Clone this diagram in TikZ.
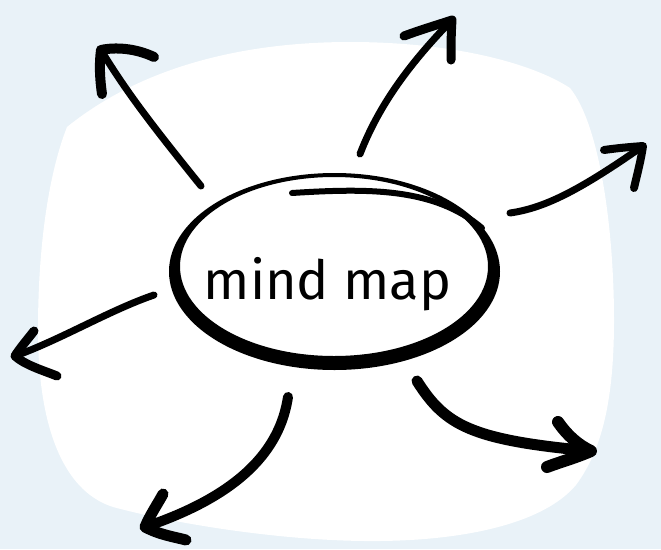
\documentclass[tikz,border=0pt]{standalone}
\usepackage{fontspec}
\newfontfamily\mmfont{Fira Sans}
\definecolor{bgblue}{RGB}{233,242,248}
\tikzset{
  stroke/.style={draw=black, line cap=round, line join=round, line width=#1},
  stroke/.default=7pt
}
\begin{document}
\begin{tikzpicture}[x=1pt,y=-1pt]
\useasboundingbox (0,0) rectangle (661,549);
\fill[bgblue] (0,0) rectangle (661,549);
% white blob
\fill[white] (67,127) .. controls (140,68) and (240,42) .. (350,42)
  .. controls (450,42) and (530,62) .. (570,88)
  .. controls (600,125) and (614,230) .. (614,320)
  .. controls (614,400) and (602,450) .. (576,485)
  .. controls (545,522) and (470,540) .. (380,541)
  .. controls (290,542) and (180,525) .. (113,507)
  .. controls (60,490) and (38,420) .. (38,330)
  .. controls (38,240) and (50,170) .. (67,127) -- cycle;
% central ellipse (variable thickness ring)
\fill[black, even odd rule] (334.5,271.5) ellipse [x radius=165.5, y radius=98.5]
  (334,266.5) ellipse [x radius=154, y radius=89.5];
\draw[stroke=6pt] (292,193) .. controls (370,188) and (435,188) .. (482,228);
\node[inner sep=0pt, anchor=base, font=\mmfont\fontsize{54}{60}\selectfont] (center) at (327.5,299) {mind map};
% arrow 1 top-left
\coordinate (a1s) at (201,186);
\coordinate (a1t) at (101,50);
\draw[stroke=7pt] (a1s) .. controls (160,135) and (128,95) .. (a1t);
\draw[stroke=10pt] (154,57) .. controls (135,48) and (115,47) .. (a1t) .. controls (99,65) and (100,80) .. (102,94);
% arrow 2 top
\coordinate (a2s) at (360,154);
\coordinate (a2t) at (452,20);
\draw[stroke=7pt] (a2s) .. controls (377,110) and (405,68) .. (a2t);
\draw[stroke=9pt] (404,36) .. controls (420,30) and (440,24) .. (a2t) .. controls (451,35) and (451,48) .. (451,60);
% arrow 3 right
\coordinate (a3s) at (510,213);
\coordinate (a3t) at (643,146);
\draw[stroke=7pt] (a3s) .. controls (545,208) and (580,190) .. (a3t);
\draw[stroke=8pt] (604,150) .. controls (618,148) and (630,147) .. (a3t) .. controls (641,160) and (637,175) .. (634,188);
% arrow 4 left
\coordinate (a4s) at (154,295);
\coordinate (a4t) at (15,356);
\draw[stroke=7pt] (a4s) .. controls (110,310) and (60,340) .. (a4t);
\draw[stroke=9pt] (34,331) .. controls (27,340) and (20,348) .. (a4t) .. controls (25,365) and (42,370) .. (57,376);
% arrow 5 bottom-left
\coordinate (a5s) at (288,397);
\coordinate (a5t) at (145,527);
\draw[stroke=10pt] (a5s) .. controls (280,450) and (240,495) .. (a5t);
\draw[stroke=11pt] (163,494) .. controls (157,505) and (150,515) .. (a5t) .. controls (160,535) and (175,537) .. (186,540);
% arrow 6 bottom-right
\coordinate (a6s) at (417,381);
\coordinate (a6t) at (591,451);
\draw[stroke=11pt] (a6s) .. controls (445,425) and (470,440) .. (a6t);
\draw[stroke=12pt] (558,422) .. controls (567,435) and (578,445) .. (a6t) .. controls (575,458) and (560,462) .. (547,467);
\end{tikzpicture}
\end{document}
